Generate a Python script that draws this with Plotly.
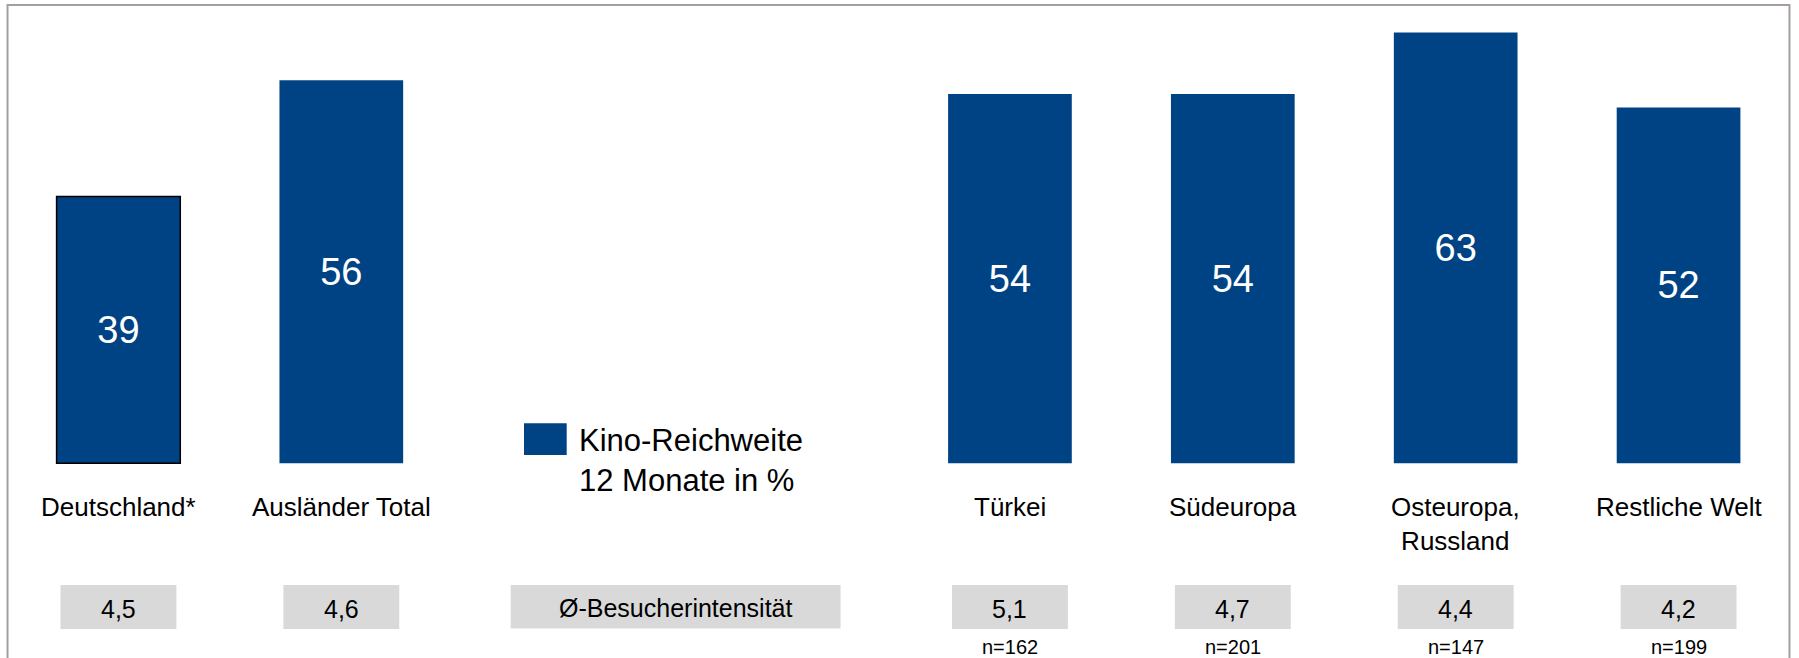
import plotly.graph_objects as go

# ---------------- data ----------------
categories = ["Deutschland*", "Ausländer Total", "Türkei", "Südeuropa",
              "Osteuropa, Russland", "Restliche Welt"]
category_labels = ["Deutschland*", "Ausländer Total", "Türkei", "Südeuropa",
                   "Osteuropa,<br>Russland", "Restliche Welt"]
reach_pct = [39, 56, 54, 54, 63, 52]                 # Kino-Reichweite 12 Monate in %
visit_intensity = [4.5, 4.6, 5.1, 4.7, 4.4, 4.2]    # Ø-Besucherintensität
sample_sizes = [None, None, 162, 201, 147, 199]
legend_label = "Kino-Reichweite<br>12 Monate in %"
intensity_label = "Ø-Besucherintensität"
gap_slots = ["_gap1", "_gap2"]

# ---------------- layout constants ----------------
W, H = 1799, 658
ML, MR, MT, MB = 7, 9, 5, 0
PW, PH = W - ML - MR, H - MT - MB
BASE_PX = 463.3      # pixel row of the bar baseline
PX_PER_UNIT = 6.84
BAR_COLOR = "#004385"
BOX_COLOR = "#d9d9d9"
FONT = "Arial, Liberation Sans, sans-serif"

def pxx(px):
    return (px - ML) / PW

def pxy(py):
    return (H - MB - py) / PH

y_range = [-(H - MB - BASE_PX) / PX_PER_UNIT, (BASE_PX - MT) / PX_PER_UNIT]
axis_order = categories[:2] + gap_slots + categories[2:]

fig = go.Figure()
fig.add_trace(go.Bar(
    x=categories, y=reach_pct, width=0.555,
    marker=dict(color=BAR_COLOR,
                line=dict(color="black", width=[1.5] + [0] * (len(categories) - 1))),
    texttemplate="%{y}", textposition="inside", insidetextanchor="middle",
    textfont=dict(color="white", size=38, family=FONT),
    textangle=0, hoverinfo="x+y", name="Kino-Reichweite 12 Monate in %",
))

shapes = []
annotations = []

# frame
shapes.append(dict(type="rect", xref="paper", yref="paper", x0=0.0003, x1=0.9997,
                   y0=-0.05, y1=1.0, line=dict(color="#a59f9c", width=2),
                   fillcolor="rgba(0,0,0,0)", layer="below"))

# category labels, intensity boxes, sample sizes
for cat, lab, vi, n in zip(categories, category_labels, visit_intensity, sample_sizes):
    idx = axis_order.index(cat)
    annotations.append(dict(x=cat, xref="x", y=pxy(490), yref="paper", yanchor="top",
                            text=lab, showarrow=False,
                            font=dict(size=26, color="black", family=FONT)))
    shapes.append(dict(type="rect", xref="x", yref="paper", x0=idx - 0.26, x1=idx + 0.26,
                       y0=pxy(629), y1=pxy(585), fillcolor=BOX_COLOR,
                       line=dict(width=0), layer="below"))
    annotations.append(dict(x=cat, xref="x", y=pxy(609), yref="paper", yanchor="middle",
                            text=f"{vi:.1f}".replace(".", ","), showarrow=False,
                            font=dict(size=25, color="black", family=FONT)))
    if n is not None:
        annotations.append(dict(x=cat, xref="x", y=pxy(647), yref="paper", yanchor="middle",
                                text=f"n={n}", showarrow=False,
                                font=dict(size=20, color="black", family=FONT)))

# Ø-Besucherintensität box spanning the two gap slots
gc = (axis_order.index(gap_slots[0]) + axis_order.index(gap_slots[1])) / 2
shapes.append(dict(type="rect", xref="x", yref="paper", x0=gc - 0.74, x1=gc + 0.74,
                   y0=pxy(628.5), y1=pxy(585), fillcolor=BOX_COLOR,
                   line=dict(width=0), layer="below"))
annotations.append(dict(x=gc, xref="x", y=pxy(608), yref="paper", yanchor="middle",
                        text=intensity_label, showarrow=False,
                        font=dict(size=25, color="black", family=FONT)))

# legend (drawn manually)
shapes.append(dict(type="rect", xref="paper", yref="paper", x0=pxx(524), x1=pxx(566.7),
                   y0=pxy(455), y1=pxy(423.3), fillcolor=BAR_COLOR, line=dict(width=0)))
annotations.append(dict(x=pxx(577), xref="paper", y=pxy(421), yref="paper",
                        xanchor="left", yanchor="top", align="left",
                        text=legend_label, showarrow=False,
                        font=dict(size=31, color="black", family=FONT)))

fig.update_layout(
    width=W, height=H,
    margin=dict(l=ML, r=MR, t=MT, b=MB, pad=0),
    paper_bgcolor="white", plot_bgcolor="white",
    showlegend=False,
    shapes=shapes, annotations=annotations,
    xaxis=dict(type="category", categoryorder="array", categoryarray=axis_order,
               range=[-0.5, len(axis_order) - 0.5], showgrid=False, zeroline=False,
               showticklabels=False, ticks="", showline=False, fixedrange=True),
    yaxis=dict(range=y_range, visible=False, showgrid=False, zeroline=False,
               fixedrange=True),
    font=dict(family=FONT),
)

fig.write_html("out.html",
               config={"displayModeBar": False},
               post_script="document.body.style.margin='0px';"
                           "document.body.style.overflow='hidden';")
